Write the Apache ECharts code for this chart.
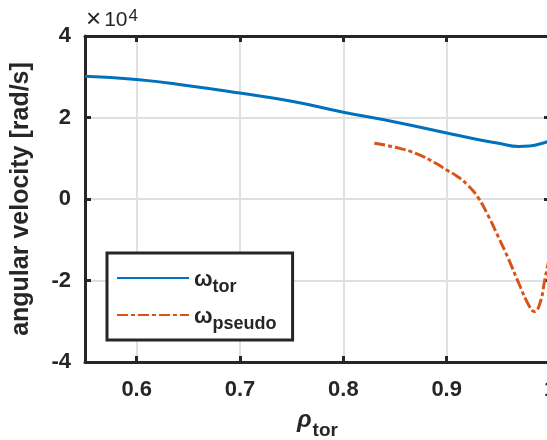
<!DOCTYPE html>
<html>
<head>
<meta charset="utf-8">
<style>html,body{margin:0;padding:0;background:#fff}#c{width:547px;height:440px}</style>
<script src="https://cdn.jsdelivr.net/npm/echarts@6/dist/echarts.min.js"></script>
</head>
<body>
<div id="c"></div>
<script>
var rhoTor = [0.55, 0.6, 0.65, 0.7, 0.75, 0.8, 0.85, 0.9, 0.93, 0.95, 0.97, 0.98, 0.99, 1.0];
var omegaTor = [30100, 29300, 27800, 26000, 24000, 21300, 18900, 16200, 14600, 13700, 12900, 13000, 13500, 14300];
var rhoPseudo = [0.83, 0.85, 0.87, 0.89, 0.9, 0.91, 0.92, 0.93, 0.94, 0.95, 0.96, 0.97, 0.98, 0.985, 0.99, 0.995, 1.0];
var omegaPseudo = [13700, 12700, 11200, 8700, 7100, 5600, 3500, 500, -4000, -9300, -14800, -20800, -26300, -27600, -25800, -19800, -13500];
var yTicks = [-40000, -20000, 0, 20000, 40000];
var seriesNames = ['omega_tor', 'omega_pseudo'];
var legendSubs = {omega_tor: 'tor', omega_pseudo: 'pseudo'};

function pairs(xs, ys) { return xs.map(function (x, i) { return [x, ys[i]]; }); }

var FONT = '"Liberation Sans", Arial, Helvetica, sans-serif';
var INK = '#262626';
var chart = echarts.init(document.getElementById('c'), null, {renderer: 'canvas'});
var axisLine = {show: true, onZero: false, lineStyle: {color: INK, width: 3}};
var axisTick = {show: true, inside: true, length: 6, lineStyle: {color: INK, width: 3}};
var splitLine = {show: true, lineStyle: {color: '#e0e0e0', width: 2}};

chart.setOption({
  animation: false,
  backgroundColor: '#fff',
  title: {
    text: '{x|×}{a|10}{b|4}',
    left: 81, top: 2,
    textStyle: {
      fontWeight: 'normal', fontSize: 21, fontFamily: FONT, color: INK,
      rich: {
        x: {fontFamily: FONT, fontSize: 26, fontWeight: 'normal', color: INK, verticalAlign: 'top', lineHeight: 26, padding: [0, 3, 0, 0]},
        a: {fontFamily: FONT, fontSize: 21, fontWeight: 'normal', color: INK, verticalAlign: 'top', lineHeight: 21, padding: [3, 0, 0, 0]},
        b: {fontFamily: FONT, fontSize: 17, fontWeight: 'normal', color: INK, verticalAlign: 'top', lineHeight: 17, padding: [1, 0, 0, 1]}
      }
    }
  },
  grid: {left: 85, top: 36, width: 465, height: 326, containLabel: false, outerBoundsMode: 'none'},
  xAxis: [{
    type: 'value', min: 0.55, max: 1.0, splitNumber: 5,
    axisLine: axisLine, axisTick: axisTick, splitLine: splitLine,
    axisLabel: {showMinLabel: false, color: INK, fontFamily: FONT, fontWeight: 'bold', fontSize: 22, margin: 17},
    name: '{r|ρ}{s|tor}', nameLocation: 'middle', nameGap: 46,
    nameTextStyle: {
      rich: {
        r: {fontFamily: FONT, fontSize: 24, fontWeight: 'bold', fontStyle: 'italic', color: INK, verticalAlign: 'top', padding: [0, 0, 8, 0]},
        s: {fontFamily: FONT, fontSize: 19, fontWeight: 'bold', color: INK, verticalAlign: 'bottom', padding: [10, 0, 0, 1]}
      }
    }
  }, {
    type: 'value', min: 0.55, max: 1.0, splitNumber: 5, position: 'top',
    axisLine: axisLine, axisTick: axisTick, splitLine: {show: false}, axisLabel: {show: false}
  }],
  yAxis: [{
    type: 'value', min: yTicks[0], max: yTicks[yTicks.length - 1], interval: 20000,
    axisLine: axisLine, axisTick: axisTick, splitLine: splitLine,
    axisLabel: {color: INK, fontFamily: FONT, fontWeight: 'bold', fontSize: 22, margin: 14,
      formatter: function (v) { return String(v / 10000); }},
    name: 'angular velocity [rad/s]', nameLocation: 'middle', nameGap: 51,
    nameTextStyle: {fontFamily: FONT, fontWeight: 'bold', fontSize: 25, color: INK}
  }, {
    type: 'value', min: yTicks[0], max: yTicks[yTicks.length - 1], interval: 20000, position: 'right',
    axisLine: axisLine, axisTick: axisTick, splitLine: {show: false}, axisLabel: {show: false}
  }],
  legend: {
    orient: 'vertical', left: 107, top: 253,
    data: seriesNames,
    itemWidth: 72, itemHeight: 14, itemGap: 1,
    padding: [14, 16, 0, 9],
    borderColor: INK, borderWidth: 3, backgroundColor: '#fff',
    itemStyle: {color: 'rgba(0,0,0,0)', borderWidth: 0, opacity: 0},
    formatter: function (n) { return '{w|ω}{s|' + legendSubs[n] + '}'; },
    textStyle: {
      rich: {
        w: {fontFamily: FONT, fontSize: 22, lineHeight: 22, fontWeight: 'bold', color: INK, verticalAlign: 'top', padding: [2, 0, 0, 0]},
        s: {fontFamily: FONT, fontSize: 18, lineHeight: 18, fontWeight: 'bold', color: INK, verticalAlign: 'top', padding: [11, 0, 7, 0]}
      }
    }
  },
  series: [{
    name: seriesNames[0], type: 'line', data: pairs(rhoTor, omegaTor),
    smooth: true, showSymbol: false, symbol: 'none',
    lineStyle: {color: '#0072BD', width: 3}, itemStyle: {color: '#0072BD'}
  }, {
    name: seriesNames[1], type: 'line', data: pairs(rhoPseudo, omegaPseudo),
    smooth: true, showSymbol: false, symbol: 'none',
    lineStyle: {color: '#D95319', width: 3, type: [11, 3, 4, 3]}, itemStyle: {color: '#D95319'}
  }]
});
</script>
</body>
</html>
